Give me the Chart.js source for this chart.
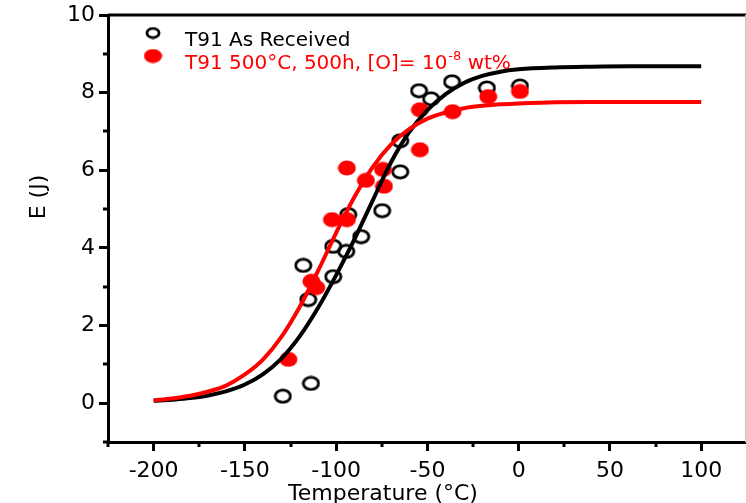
<!DOCTYPE html>
<html>
<head>
<meta charset="utf-8">
<script src="https://cdn.jsdelivr.net/npm/chart.js@4.4.1/dist/chart.umd.min.js"></script>
<style>
  html, body { margin: 0; padding: 0; background: #fff; }
  #wrap { width: 746px; height: 503px; }
</style>
</head>
<body>
<div id="wrap"><canvas id="chart" width="746" height="503"></canvas></div>
<script>
// measured points, T91 as received
const arTemp = [-129.2, -113.8, -118, -115.3, -101.6, -101.6, -94.5, -93.4, -86.3, -74.8, -64.9, -64.9, -54.6, -48, -36.5, -17.4, 0.7];
const arEnergy = [0.18, 0.51, 3.55, 2.67, 3.26, 4.04, 3.91, 4.86, 4.29, 4.96, 5.96, 6.76, 8.05, 7.84, 8.28, 8.12, 8.17];

// measured points, aged 500C / 500h
const agedTemp = [-126.2, -113.6, -110.9, -102.3, -94.1, -94.1, -83.7, -74.3, -73.8, -54.1, -54.1, -36.2, -16.7, 0.7];
const agedEnergy = [1.13, 3.14, 2.98, 4.73, 4.73, 6.06, 5.74, 6.02, 5.59, 7.56, 6.53, 7.51, 7.90, 8.03];

// fitted curves
const curveTemp = [-200, -190, -180, -170, -160, -150, -140, -130, -120, -110, -100, -90, -80, -70, -60, -50, -40, -30, -20, -10, 0, 20, 40, 60, 80, 100];
const arFit = [0.06, 0.09, 0.13, 0.20, 0.31, 0.48, 0.75, 1.15, 1.72, 2.45, 3.30, 4.22, 5.22, 6.20, 6.98, 7.55, 7.96, 8.25, 8.43, 8.54, 8.60, 8.65, 8.67, 8.68, 8.68, 8.68];
const agedFit = [0.07, 0.12, 0.19, 0.30, 0.46, 0.74, 1.13, 1.71, 2.48, 3.40, 4.39, 5.31, 6.08, 6.66, 7.06, 7.33, 7.49, 7.60, 7.66, 7.70, 7.72, 7.75, 7.76, 7.76, 7.76, 7.76];

const xTicks = [-200, -150, -100, -50, 0, 50, 100];
const xMinor = [-225, -175, -125, -75, -25, 25, 75];
const yTicks = [0, 2, 4, 6, 8, 10];
const yMinor = [-1, 1, 3, 5, 7, 9];

const FONT = 'DejaVu Sans';
const RED = '#ff0000';

// elliptical markers (the figure is stretched a bit horizontally)
function ellipse(w, h, fill, stroke, lw) {
  const c = document.createElement('canvas');
  c.width = w; c.height = h;
  const g = c.getContext('2d');
  g.beginPath();
  g.ellipse(w / 2, h / 2, w / 2 - lw / 2 - 0.5, h / 2 - lw / 2 - 0.5, 0, 0, Math.PI * 2);
  if (fill) { g.fillStyle = fill; g.fill(); }
  if (stroke) { g.strokeStyle = stroke; g.lineWidth = lw; g.stroke(); }
  return c;
}
const openMark = ellipse(19, 16, null, '#000', 2.8);
const redMark = ellipse(19, 16, RED, null, 0);
const openLegend = ellipse(16, 13, null, '#000', 2.8);
const redLegend = ellipse(19, 15, RED, null, 0);

const pts = (xs, ys) => xs.map((x, i) => ({ x: x, y: ys[i] }));

// frame, minor ticks, axis titles, legend
const decorations = {
  id: 'decorations',
  afterDraw(chart) {
    const ctx = chart.ctx;
    const a = chart.chartArea;
    const sx = chart.scales.x, sy = chart.scales.y;
    ctx.save();
    ctx.strokeStyle = '#000';
    ctx.lineWidth = 3;
    ctx.beginPath();
    ctx.moveTo(a.left, a.top);
    ctx.lineTo(746, a.top);
    ctx.stroke();
    ctx.strokeStyle = '#c8c8c8';
    ctx.lineWidth = 1;
    ctx.beginPath();
    ctx.moveTo(a.right + 0.5, a.top);
    ctx.lineTo(a.right + 0.5, a.bottom);
    ctx.stroke();

    ctx.strokeStyle = '#000';
    ctx.lineWidth = 3;
    xMinor.forEach(v => {
      const px = Math.round(sx.getPixelForValue(v));
      ctx.beginPath();
      ctx.moveTo(px, a.bottom);
      ctx.lineTo(px, a.bottom + 5);
      ctx.stroke();
    });
    yMinor.forEach(v => {
      const py = Math.round(sy.getPixelForValue(v));
      ctx.beginPath();
      ctx.moveTo(a.left, py);
      ctx.lineTo(a.left - 5, py);
      ctx.stroke();
    });

    ctx.fillStyle = '#000';
    ctx.font = '22px "' + FONT + '"';
    ctx.textAlign = 'center';
    ctx.textBaseline = 'alphabetic';
    ctx.fillText('Temperature (°C)', 383, 500);
    ctx.save();
    ctx.translate(45, 197);
    ctx.rotate(-Math.PI / 2);
    ctx.fillText('E (J)', 0, 0);
    ctx.restore();

    // legend
    ctx.drawImage(openLegend, 153 - openLegend.width / 2, 33 - openLegend.height / 2);
    ctx.drawImage(redLegend, 153 - redLegend.width / 2, 56 - redLegend.height / 2);
    ctx.textAlign = 'left';
    ctx.font = '20px "' + FONT + '"';
    ctx.fillStyle = '#000';
    ctx.fillText('T91 As Received', 185, 46);
    ctx.fillStyle = RED;
    let t = 'T91 500°C, 500h, [O]= 10';
    ctx.fillText(t, 185, 69);
    let x = 185 + ctx.measureText(t).width + 1;
    ctx.font = '13px "' + FONT + '"';
    ctx.fillText('-8', x, 60);
    x += ctx.measureText('-8').width;
    ctx.font = '20px "' + FONT + '"';
    ctx.fillText(' wt%', x, 69);
    ctx.restore();
  }
};

new Chart(document.getElementById('chart'), {
  type: 'scatter',
  data: {
    datasets: [
      {
        label: 'T91 As Received',
        data: pts(arTemp, arEnergy),
        pointStyle: openMark,
        pointRadius: 8,
        order: 4
      },
      {
        label: 'T91 500°C, 500h',
        data: pts(agedTemp, agedEnergy),
        pointStyle: redMark,
        pointRadius: 8,
        order: 3
      },
      {
        label: 'fit as received',
        data: pts(curveTemp, arFit),
        showLine: true,
        borderColor: '#000',
        borderWidth: 4,
        pointRadius: 0,
        cubicInterpolationMode: 'monotone',
        order: 2
      },
      {
        label: 'fit aged',
        data: pts(curveTemp, agedFit),
        showLine: true,
        borderColor: RED,
        borderWidth: 4,
        pointRadius: 0,
        cubicInterpolationMode: 'monotone',
        order: 1
      }
    ]
  },
  options: {
    responsive: false,
    devicePixelRatio: 1,
    animation: false,
    layout: { autoPadding: false, padding: { left: 0, top: 15, right: 1, bottom: 0 } },
    plugins: {
      legend: { display: false },
      tooltip: { enabled: false }
    },
    scales: {
      x: {
        type: 'linear',
        min: -225,
        max: 124,
        afterBuildTicks: s => { s.ticks = xTicks.map(v => ({ value: v })); },
        afterFit: s => { s.height = 61; s.paddingLeft = 0; s.paddingRight = 0; },
        border: { color: '#000', width: 3 },
        grid: { drawOnChartArea: false, tickLength: 9, tickWidth: 3, tickColor: '#000' },
        ticks: { color: '#000', font: { family: FONT, size: 22 }, padding: 7, maxRotation: 0 }
      },
      y: {
        type: 'linear',
        min: -1,
        max: 10,
        afterBuildTicks: s => { s.ticks = yTicks.map(v => ({ value: v })); },
        afterFit: s => { s.width = 108; s.paddingTop = 0; s.paddingBottom = 0; },
        border: { color: '#000', width: 3 },
        grid: { drawOnChartArea: false, tickLength: 9, tickWidth: 3, tickColor: '#000' },
        ticks: { color: '#000', font: { family: FONT, size: 22 }, padding: 4 }
      }
    }
  },
  plugins: [decorations]
});
</script>
</body>
</html>
